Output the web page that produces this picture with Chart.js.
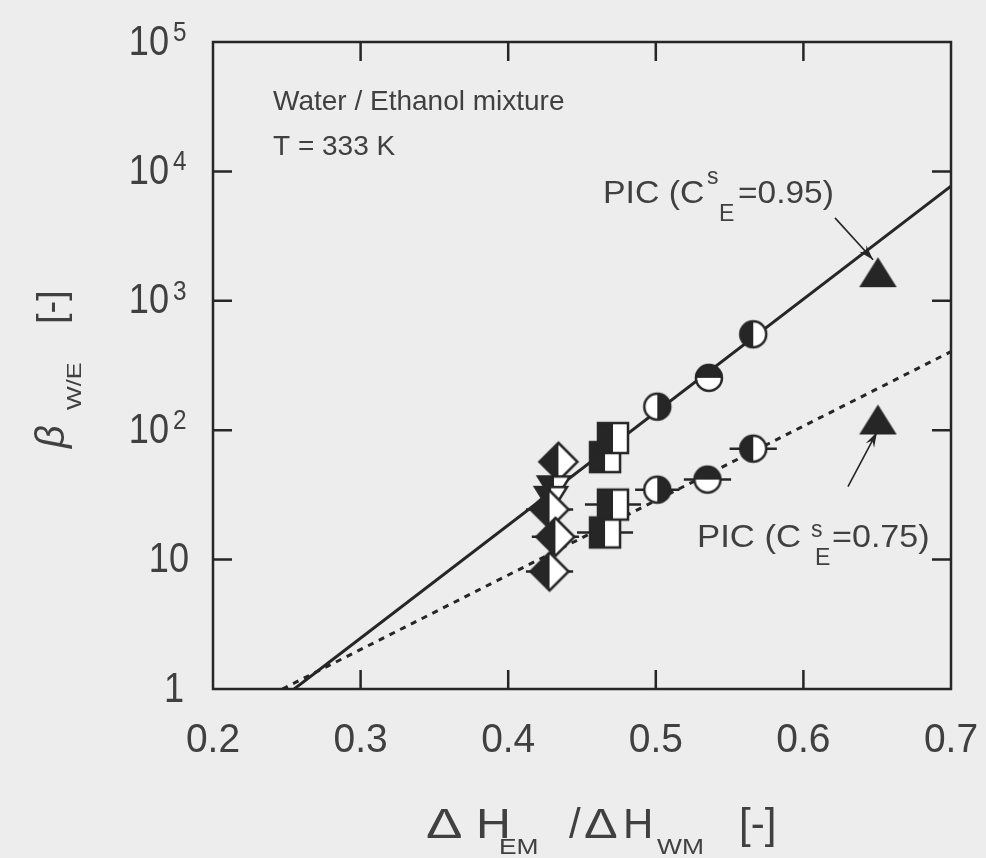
<!DOCTYPE html>
<html>
<head>
<meta charset="utf-8">
<script src="https://cdn.jsdelivr.net/npm/chart.js@4.4.0/dist/chart.umd.min.js"></script>
<style>
  html, body { margin: 0; padding: 0; background: #ededed; }
  #wrap { width: 986px; height: 858px; }
</style>
</head>
<body>
<div id="wrap"><canvas id="betaChart" width="986" height="858"></canvas></div>
<script>
// axis ticks
const xTicks = [0.2, 0.3, 0.4, 0.5, 0.6, 0.7];
const xTickLabels = ['0.2', '0.3', '0.4', '0.5', '0.6', '0.7'];
const yTicks = [1, 10, 100, 1000, 10000, 100000];
const yTickBase = ['1', '10', '10', '10', '10', '10'];
const yTickExp = ['', '', '2', '3', '4', '5'];

// correlation lines (end points)
const solidX = [0.255, 0.7];
const solidY = [1, 7700];
const dottedX = [0.247, 0.7];
const dottedY = [1, 405];

// upper group (solid line)
const hiCircleX = [0.501, 0.536, 0.566];
const hiCircleY = [152, 254, 551];
const hiSquareX = [0.4656, 0.471];
const hiSquareY = [62, 87];
const hiDiamondX = [0.434];
const hiDiamondY = [57];
const hiTriDownX = [0.431];
const hiTriDownY = [35];
const hiPicX = [0.6505];
const hiPicY = [1650];

// lower group (dotted line), with x error bars
const loCircleX = [0.501, 0.535, 0.566];
const loCircleY = [34.7, 41.5, 72];
const loCircleErr = [0.015, 0.016, 0.016];
const loSquareX = [0.4656, 0.471];
const loSquareY = [16.2, 26.6];
const loSquareErr = [0.019, 0.019];
const loDiamondX = [0.428, 0.432, 0.428];
const loDiamondY = [24.4, 15.0, 8.1];
const loDiamondErr = [0.016, 0.016, 0.016];
const loTriDownX = [0.429];
const loTriDownY = [29];
const loPicX = [0.6505];
const loPicY = [120];

// arrows from labels to the PIC points
const arrowHiFrom = [0.6214, 4375];
const arrowHiTo = [0.6472, 2074];
const arrowLoFrom = [0.6302, 36.6];
const arrowLoTo = [0.6499, 97];

const INK = '#262626';
const TEXT = '#404040';
const FONT = '"Liberation Sans", Arial, Helvetica, sans-serif';

function pts(xs, ys) {
    return xs.map((x, i) => ({ x: x, y: ys[i] }));
}

function makeMarker(shape, half, size) {
    const pad = 3;
    const w = size + pad * 2;
    const c = document.createElement('canvas');
    c.width = w;
    c.height = w;
    const g = c.getContext('2d');
    const m = w / 2, r = size / 2;
    const path = () => {
        g.beginPath();
        if (shape === 'circle') {
            g.arc(m, m, r, 0, Math.PI * 2);
        } else if (shape === 'square') {
            g.rect(m - r, m - r, size, size);
        } else if (shape === 'diamond') {
            g.moveTo(m, m - r); g.lineTo(m + r, m); g.lineTo(m, m + r); g.lineTo(m - r, m); g.closePath();
        } else if (shape === 'triUp') {
            g.moveTo(m, m - r * 0.8); g.lineTo(m + r, m + r * 0.8); g.lineTo(m - r, m + r * 0.8); g.closePath();
        } else {
            g.moveTo(m - r, m - r * 0.8); g.lineTo(m + r, m - r * 0.8); g.lineTo(m, m + r * 0.8); g.closePath();
        }
    };
    path();
    g.fillStyle = '#ffffff';
    g.fill();
    g.save();
    path();
    g.clip();
    g.fillStyle = INK;
    if (half === 'left') g.fillRect(0, 0, m, w);
    if (half === 'right') g.fillRect(m, 0, m, w);
    if (half === 'top') g.fillRect(0, 0, w, m);
    if (half === 'full') g.fillRect(0, 0, w, w);
    g.restore();
    path();
    g.lineWidth = 2.5;
    g.strokeStyle = INK;
    g.stroke();
    return c;
}

const circleR = makeMarker('circle', 'right', 26);
const circleT = makeMarker('circle', 'top', 26);
const circleL = makeMarker('circle', 'left', 26);
const squareL = makeMarker('square', 'left', 30);
const diamondL = makeMarker('diamond', 'left', 38);
const triDownL = makeMarker('triDown', 'left', 32);
const triUpFull = makeMarker('triUp', 'full', 33);

function markerSet(xs, ys, style, err) {
    return {
        data: pts(xs, ys),
        pointStyle: style,
        pointRadius: 15,
        showLine: false,
        xErr: err || null,
        order: 1
    };
}

function lineSet(xs, ys, dash) {
    return {
        data: pts(xs, ys),
        showLine: true,
        pointRadius: 0,
        borderColor: INK,
        borderWidth: 3,
        borderDash: dash,
        order: 10
    };
}

function txt(ctx, s, x, y, size, align, base, sx, style) {
    ctx.save();
    ctx.font = (style || '') + ' ' + size + 'px ' + FONT;
    ctx.textAlign = align;
    ctx.textBaseline = base;
    ctx.fillStyle = TEXT;
    ctx.translate(x, y);
    ctx.scale(sx || 1, 1);
    ctx.fillText(s, 0, 0);
    ctx.restore();
}

function arrow(ctx, x1, y1, x2, y2) {
    const a = Math.atan2(y2 - y1, x2 - x1);
    ctx.save();
    ctx.strokeStyle = INK;
    ctx.fillStyle = INK;
    ctx.lineWidth = 1.6;
    ctx.beginPath();
    ctx.moveTo(x1, y1);
    ctx.lineTo(x2, y2);
    ctx.stroke();
    ctx.beginPath();
    ctx.moveTo(x2, y2);
    ctx.lineTo(x2 - 16 * Math.cos(a - 0.3), y2 - 16 * Math.sin(a - 0.3));
    ctx.lineTo(x2 - 10 * Math.cos(a), y2 - 10 * Math.sin(a));
    ctx.lineTo(x2 - 16 * Math.cos(a + 0.3), y2 - 16 * Math.sin(a + 0.3));
    ctx.closePath();
    ctx.fill();
    ctx.restore();
}

const decorPlugin = {
    id: 'decor',
    beforeDatasetsDraw(chart) {
        // horizontal error bars under the markers
        const ctx = chart.ctx;
        const xs = chart.scales.x;
        ctx.save();
        ctx.strokeStyle = INK;
        ctx.lineWidth = 2.5;
        chart.data.datasets.forEach((ds, i) => {
            if (!ds.xErr) return;
            const meta = chart.getDatasetMeta(i);
            meta.data.forEach((p, j) => {
                const d = ds.data[j];
                ctx.beginPath();
                ctx.moveTo(xs.getPixelForValue(d.x - ds.xErr[j]), p.y);
                ctx.lineTo(xs.getPixelForValue(d.x + ds.xErr[j]), p.y);
                ctx.stroke();
            });
        });
        ctx.restore();
    },
    afterDraw(chart) {
        const ctx = chart.ctx;
        const a = chart.chartArea;
        const xs = chart.scales.x, ys = chart.scales.y;

        // frame and inward ticks
        ctx.save();
        ctx.strokeStyle = INK;
        ctx.lineWidth = 2.5;
        ctx.strokeRect(a.left, a.top, a.right - a.left, a.bottom - a.top);
        ctx.beginPath();
        xTicks.slice(1, -1).forEach(v => {
            const px = xs.getPixelForValue(v);
            ctx.moveTo(px, a.bottom); ctx.lineTo(px, a.bottom - 19);
            ctx.moveTo(px, a.top); ctx.lineTo(px, a.top + 19);
        });
        yTicks.slice(1, -1).forEach(v => {
            const py = ys.getPixelForValue(v);
            ctx.moveTo(a.left, py); ctx.lineTo(a.left + 19, py);
            ctx.moveTo(a.right, py); ctx.lineTo(a.right - 19, py);
        });
        ctx.stroke();
        ctx.restore();

        // tick labels
        xTicks.forEach((v, i) => {
            txt(ctx, xTickLabels[i], xs.getPixelForValue(v), a.bottom + 52, 41, 'center', 'middle', 0.95);
        });
        yTicks.forEach((v, i) => {
            const py = ys.getPixelForValue(v);
            if (yTickExp[i]) {
                txt(ctx, yTickBase[i], 169, py + 1, 42, 'right', 'middle', 0.86);
                txt(ctx, yTickExp[i], 173, py - 1, 27, 'left', 'alphabetic', 0.9);
            } else {
                txt(ctx, yTickBase[i], i === 0 ? 184 : 189, py + 1, 42, 'right', 'middle', 0.86);
            }
        });

        // x axis title
        const xb = 838;
        txt(ctx, '\u0394', 426, xb, 42, 'left', 'alphabetic', 1.3);
        txt(ctx, 'H', 476, xb, 42, 'left', 'alphabetic', 1.15);
        txt(ctx, 'EM', 499, xb + 16, 22, 'left', 'alphabetic', 1.2);
        txt(ctx, '/', 569, xb, 42, 'left', 'alphabetic');
        txt(ctx, '\u0394', 584, xb, 42, 'left', 'alphabetic', 1.2);
        txt(ctx, 'H', 623, xb, 42, 'left', 'alphabetic');
        txt(ctx, 'WM', 657, xb + 16, 22, 'left', 'alphabetic', 1.2);
        txt(ctx, '[-]', 739, xb, 42, 'left', 'alphabetic');

        // y axis title, rotated
        ctx.save();
        ctx.translate(64, 448);
        ctx.rotate(-Math.PI / 2);
        txt(ctx, '\u03b2', 0, 0, 40, 'left', 'alphabetic', 1, 'italic');
        txt(ctx, 'W/E', 38, 17, 21, 'left', 'alphabetic', 1.2);
        txt(ctx, '[-]', 124, 0, 38, 'left', 'alphabetic');
        ctx.restore();

        // annotations
        txt(ctx, 'Water / Ethanol mixture', 273, 110, 28, 'left', 'alphabetic');
        txt(ctx, 'T = 333 K', 273, 155, 28, 'left', 'alphabetic');

        txt(ctx, 'PIC (C', 603, 203, 31, 'left', 'alphabetic', 1.09);
        txt(ctx, 's', 707, 184, 23, 'left', 'alphabetic');
        txt(ctx, 'E', 719, 221, 23, 'left', 'alphabetic');
        txt(ctx, '=0.95)', 738, 203, 31, 'left', 'alphabetic', 1.08);

        txt(ctx, 'PIC (C', 697, 547, 31, 'left', 'alphabetic', 1.12);
        txt(ctx, 's', 811, 537, 23, 'left', 'alphabetic');
        txt(ctx, 'E', 815, 565, 23, 'left', 'alphabetic');
        txt(ctx, '=0.75)', 832, 547, 31, 'left', 'alphabetic', 1.1);

        arrow(ctx, xs.getPixelForValue(arrowHiFrom[0]), ys.getPixelForValue(arrowHiFrom[1]),
              xs.getPixelForValue(arrowHiTo[0]), ys.getPixelForValue(arrowHiTo[1]));
        arrow(ctx, xs.getPixelForValue(arrowLoFrom[0]), ys.getPixelForValue(arrowLoFrom[1]),
              xs.getPixelForValue(arrowLoTo[0]), ys.getPixelForValue(arrowLoTo[1]));
    }
};

const ctx = document.getElementById('betaChart').getContext('2d');
new Chart(ctx, {
    type: 'scatter',
    data: {
        datasets: [
            lineSet(solidX, solidY, []),
            lineSet(dottedX, dottedY, [6, 6]),
            markerSet(loDiamondX, loDiamondY, diamondL, loDiamondErr),
            markerSet(loTriDownX, loTriDownY, triDownL),
            markerSet(hiTriDownX, hiTriDownY, triDownL),
            markerSet(hiDiamondX, hiDiamondY, diamondL),
            markerSet(loSquareX, loSquareY, squareL, loSquareErr),
            markerSet(hiSquareX, hiSquareY, squareL),
            markerSet(loCircleX, loCircleY, [circleR, circleT, circleL], loCircleErr),
            markerSet(hiCircleX, hiCircleY, [circleR, circleT, circleL]),
            markerSet(hiPicX, hiPicY, triUpFull),
            markerSet(loPicX, loPicY, triUpFull)
        ]
    },
    options: {
        responsive: false,
        animation: false,
        layout: {
            padding: { left: 213, right: 35, top: 42, bottom: 169 }
        },
        plugins: {
            legend: { display: false },
            tooltip: { enabled: false }
        },
        scales: {
            x: { type: 'linear', display: false, min: 0.2, max: 0.7 },
            y: { type: 'logarithmic', display: false, min: 1, max: 100000 }
        }
    },
    plugins: [decorPlugin]
});
</script>
</body>
</html>
